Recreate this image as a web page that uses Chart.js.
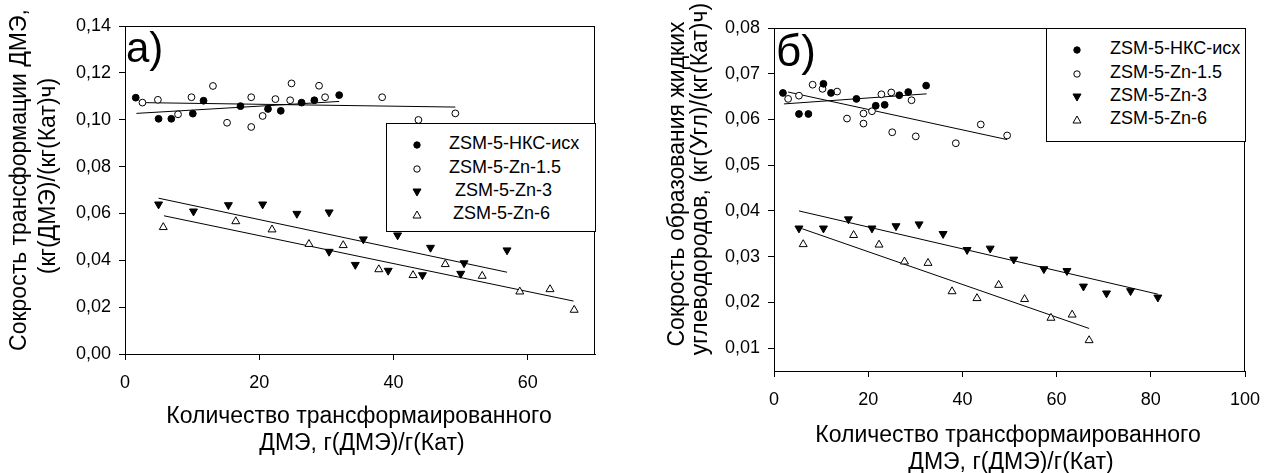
<!DOCTYPE html>
<html><head><meta charset="utf-8">
<script src="https://cdn.jsdelivr.net/npm/chart.js@4.4.0/dist/chart.umd.min.js"></script>
<style>
html,body{margin:0;padding:0;background:#fff;}
#wrap{position:relative;width:1280px;height:473px;overflow:hidden;font-family:"Liberation Sans",Arial,sans-serif;color:#000;background:#fff;}
canvas{position:absolute;top:0;}
.t{position:absolute;white-space:nowrap;line-height:1;}
.rot{transform:translate(-50%,-50%) rotate(-90deg);}
.ctr{transform:translate(-50%,-50%);}
.lg{position:absolute;border:1px solid #000;background:#fff;box-sizing:border-box;}
.lgm{position:absolute;width:12px;height:12px;}
.lgt{position:absolute;white-space:nowrap;line-height:1;font-size:18px;}
</style></head>
<body><div id="wrap">
<canvas id="ca" width="640" height="473" style="left:0"></canvas>
<canvas id="cb" width="640" height="473" style="left:640px"></canvas>
</div>
<script>
// ---------- names / ticks ----------
const seriesNames = ['ZSM-5-НКС-исх', 'ZSM-5-Zn-1.5', 'ZSM-5-Zn-3', 'ZSM-5-Zn-6'];
const aXTicks = [0, 20, 40, 60];
const aYTicks = [0, 0.02, 0.04, 0.06, 0.08, 0.10, 0.12, 0.14];
const bXTicks = [0, 20, 40, 60, 80, 100];
const bYTicks = [0.01, 0.02, 0.03, 0.04, 0.05, 0.06, 0.07, 0.08];

// ---------- panel а) ----------
const aHksX = [1.6, 5.0, 6.9, 10.1, 11.7, 17.2, 21.3, 23.2, 26.3, 28.2, 31.9];
const aHksY = [0.1094, 0.1004, 0.1004, 0.1026, 0.1081, 0.1058, 0.1046, 0.1038, 0.1073, 0.1083, 0.1105];
const aZn15X = [2.6, 4.9, 7.9, 9.9, 13.1, 15.2, 18.8, 18.8, 20.5, 22.4, 24.6, 24.8, 28.9, 29.8, 38.3, 43.7, 49.2];
const aZn15Y = [0.1073, 0.1085, 0.1023, 0.1096, 0.1144, 0.0987, 0.1096, 0.0969, 0.1016, 0.1088, 0.1083, 0.1155, 0.1145, 0.1096, 0.1096, 0.0999, 0.1027];
const aZn3X = [5.0, 10.2, 15.4, 20.5, 25.6, 30.4, 30.4, 34.3, 35.5, 39.2, 40.6, 44.3, 45.5, 50.0, 50.5, 56.9];
const aZn3Y = [0.0639, 0.0609, 0.0636, 0.0639, 0.0599, 0.0605, 0.0437, 0.0381, 0.0490, 0.0356, 0.0507, 0.0337, 0.0454, 0.0343, 0.0388, 0.0443];
const aZn6X = [5.7, 16.5, 21.9, 27.4, 32.5, 37.8, 42.9, 47.7, 53.2, 58.8, 63.3, 66.9];
const aZn6Y = [0.0541, 0.0566, 0.0531, 0.0469, 0.0464, 0.0361, 0.0336, 0.0383, 0.0333, 0.0266, 0.0276, 0.0188];
const aHksFitX = [1.7, 31.9],  aHksFitY = [0.1027, 0.1078];
const aZn15FitX = [2.6, 49.2], aZn15FitY = [0.1073, 0.1054];
const aZn3FitX = [5.0, 56.9],  aZn3FitY = [0.0665, 0.0349];
const aZn6FitX = [5.8, 66.8],  aZn6FitY = [0.0590, 0.0226];

// ---------- panel б) ----------
const bHksX = [1.9, 5.3, 7.3, 10.5, 12.1, 17.5, 21.6, 23.5, 26.6, 28.5, 32.3];
const bHksY = [0.0658, 0.0612, 0.0612, 0.0678, 0.0658, 0.0645, 0.0630, 0.0632, 0.0653, 0.0660, 0.0674];
const bZn15X = [3.0, 5.3, 8.2, 10.3, 13.4, 15.5, 19.0, 19.0, 20.8, 22.8, 24.9, 25.1, 29.2, 30.1, 38.6, 43.9, 49.5];
const bZn15Y = [0.0645, 0.0652, 0.0676, 0.0667, 0.0661, 0.0602, 0.0613, 0.0591, 0.0618, 0.0655, 0.0659, 0.0572, 0.0642, 0.0563, 0.0548, 0.0589, 0.0565];
const bZn3X = [5.3, 10.5, 15.8, 20.8, 25.9, 30.8, 35.9, 41.0, 45.9, 50.9, 57.3, 62.2, 65.7, 70.6, 75.7, 81.5];
const bZn3Y = [0.0362, 0.0362, 0.0382, 0.0362, 0.0367, 0.0371, 0.0350, 0.0315, 0.0318, 0.0294, 0.0273, 0.0269, 0.0235, 0.0220, 0.0225, 0.0211];
const bZn6X = [6.2, 16.9, 22.3, 27.7, 32.7, 37.8, 43.1, 47.7, 53.2, 58.8, 63.3, 66.9];
const bZn6Y = [0.0327, 0.0347, 0.0326, 0.0289, 0.0286, 0.0224, 0.0209, 0.0238, 0.0207, 0.0166, 0.0173, 0.0117];
const bHksFitX = [2.1, 32.4],  bHksFitY = [0.0634, 0.0656];
const bZn15FitX = [3.0, 49.5], bZn15FitY = [0.0660, 0.0556];
const bZn3FitX = [5.3, 81.5],  bZn3FitY = [0.0400, 0.0218];
const bZn6FitX = [6.0, 66.9],  bZn6FitY = [0.0361, 0.0143];

// ---------- styles ----------
const FONT = 'Liberation Sans';
const markers = [
  {pointStyle: 'circle', r: 3.4, fill: '#000', rot: 0},
  {pointStyle: 'circle', r: 3.4, fill: '#fff', rot: 0},
  {pointStyle: 'triangle', r: 4.6, fill: '#000', rot: 180},
  {pointStyle: 'triangle', r: 4.6, fill: '#fff', rot: 0}
];
function pts(xs, ys) { return xs.map((x, i) => ({x: x, y: ys[i]})); }
function scatterDs(xs, ys, k) {
  const m = markers[k];
  return {label: seriesNames[k], data: pts(xs, ys), showLine: false, order: 1,
    pointStyle: m.pointStyle, pointRadius: m.r, pointRotation: m.rot,
    pointBackgroundColor: m.fill, pointBorderColor: '#000', pointBorderWidth: 1};
}
function fitDs(xs, ys) {
  return {data: pts(xs, ys), showLine: true, pointRadius: 0, borderColor: '#000',
    borderWidth: 1, order: 2, fill: false};
}
const frame = {id: 'frame', beforeDatasetsDraw(chart) {
  const c = chart.ctx, a = chart.chartArea;
  c.save(); c.strokeStyle = '#000'; c.lineWidth = 1;
  c.strokeRect(Math.round(a.left) + 0.5, Math.round(a.top) + 0.5,
               Math.round(a.right - a.left) - 1, Math.round(a.bottom - a.top));
  c.restore();
}};
const fmtY = v => Number(v).toFixed(2).replace('.', ',');

function makeChart(id, o) {
  return new Chart(document.getElementById(id), {
    type: 'scatter',
    data: {datasets: o.datasets},
    options: {
      responsive: false, animation: false, devicePixelRatio: 1,
      layout: {padding: o.pad},
      plugins: {legend: {display: false}, tooltip: {enabled: false}},
      scales: {
        x: {type: 'linear', position: 'bottom', min: o.xmin, max: o.xmax,
          afterFit(s) { s.height = o.xh; },
          afterBuildTicks(s) { s.ticks = o.xt.map(v => ({value: v})); },
          ticks: {font: {family: FONT, size: 18}, color: '#000', padding: 12,
                  maxRotation: 0, autoSkip: false, callback: v => String(v)},
          grid: {drawOnChartArea: false, drawTicks: true, tickLength: 6, color: '#000'},
          border: {display: true, color: '#000', width: 1}},
        y: {type: 'linear', position: 'left', min: o.ymin, max: o.ymax,
          afterFit(s) { s.width = o.yw; },
          afterBuildTicks(s) { s.ticks = o.yt.map(v => ({value: v})); },
          ticks: {font: {family: FONT, size: 18}, color: '#000', padding: 8,
                  autoSkip: false, callback: fmtY},
          grid: {drawOnChartArea: false, drawTicks: true, tickLength: 6, color: '#000'},
          border: {display: true, color: '#000', width: 1}}
      }
    },
    plugins: [frame]
  });
}

makeChart('ca', {
  datasets: [
    fitDs(aHksFitX, aHksFitY), fitDs(aZn15FitX, aZn15FitY), fitDs(aZn3FitX, aZn3FitY), fitDs(aZn6FitX, aZn6FitY),
    scatterDs(aHksX, aHksY, 0), scatterDs(aZn15X, aZn15Y, 1), scatterDs(aZn3X, aZn3Y, 2), scatterDs(aZn6X, aZn6Y, 3)
  ],
  pad: {top: 26, right: 45, left: 0, bottom: 0}, yw: 125, xh: 119,
  xmin: 0, xmax: 70, ymin: 0, ymax: 0.14, xt: aXTicks, yt: aYTicks
});
makeChart('cb', {
  datasets: [
    fitDs(bHksFitX, bHksFitY), fitDs(bZn15FitX, bZn15FitY), fitDs(bZn3FitX, bZn3FitY), fitDs(bZn6FitX, bZn6FitY),
    scatterDs(bHksX, bHksY, 0), scatterDs(bZn15X, bZn15Y, 1), scatterDs(bZn3X, bZn3Y, 2), scatterDs(bZn6X, bZn6Y, 3)
  ],
  pad: {top: 28, right: 35, left: 0, bottom: 0}, yw: 134, xh: 102,
  xmin: 0, xmax: 100, ymin: 0.005, ymax: 0.08, xt: bXTicks, yt: bYTicks
});

// ---------- text & legends (HTML) ----------
const wrap = document.getElementById('wrap');
function addText(txt, x, y, size, cls) {
  const d = document.createElement('div');
  d.className = 't ' + (cls || '');
  d.textContent = txt;
  d.style.left = x + 'px'; d.style.top = y + 'px'; d.style.fontSize = size + 'px';
  wrap.appendChild(d); return d;
}
addText('а)', 126, 27, 42);
addText('б)', 776, 29, 44);
addText('Сокрость трансформации ДМЭ,', 18, 180, 23, 'rot');
addText('(кг(ДМЭ)/(кг(Кат)ч)', 47, 176, 23, 'rot');
addText('Количество трансформаированного', 359, 415, 23, 'ctr');
addText('ДМЭ, г(ДМЭ)/г(Кат)', 362, 442, 23, 'ctr');
addText('Сокрость образования жидких', 676, 184, 23, 'rot');
addText('углеводородов, (кг(Угл)/(кг(Кат)ч)', 699, 179, 23, 'rot');
addText('Количество трансформаированного', 1008, 434, 23, 'ctr');
addText('ДМЭ, г(ДМЭ)/г(Кат)', 1011, 461, 23, 'ctr');

const svgMarks = [
  '<circle cx="6" cy="6" r="3.2" fill="#000" stroke="#000" stroke-width="1"/>',
  '<circle cx="6" cy="6" r="3.2" fill="#fff" stroke="#000" stroke-width="1"/>',
  '<polygon points="2,3 10,3 6,10" fill="#000" stroke="#000" stroke-width="1"/>',
  '<polygon points="2,9 10,9 6,2" fill="#fff" stroke="#000" stroke-width="1"/>'
];
function addLegend(box, markX, textX, rows, textOff) {
  const b = document.createElement('div');
  b.className = 'lg';
  b.style.left = box[0] + 'px'; b.style.top = box[1] + 'px';
  b.style.width = box[2] + 'px'; b.style.height = box[3] + 'px';
  wrap.appendChild(b);
  seriesNames.forEach((n, i) => {
    const m = document.createElement('div');
    m.className = 'lgm';
    m.style.left = (markX - 6) + 'px'; m.style.top = (rows[i] - 6) + 'px';
    m.innerHTML = '<svg width="12" height="12" viewBox="0 0 12 12">' + svgMarks[i] + '</svg>';
    wrap.appendChild(m);
    const t = document.createElement('div');
    t.className = 'lgt';
    t.textContent = n;
    t.style.left = (textX + textOff[i]) + 'px'; t.style.top = (rows[i] - 9) + 'px';
    wrap.appendChild(t);
  });
}
addLegend([386, 123, 210, 109], 417, 449, [143, 167, 190, 213], [0, 0, 6, 4]);
addLegend([1046, 28, 200, 114], 1077, 1110, [48, 72, 95, 118], [0, 0, 0, 0]);
</script>
</body></html>
